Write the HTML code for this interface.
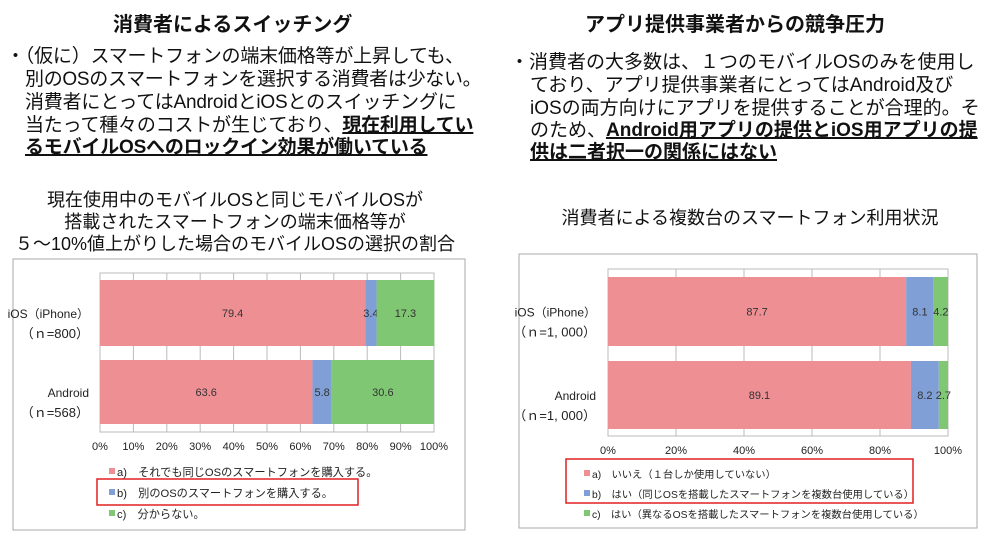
<!DOCTYPE html>
<html><head><meta charset="utf-8">
<style>
body{margin:0;width:1000px;height:536px;background:#fff;overflow:hidden;position:relative;font-family:"Liberation Sans","Noto Sans CJK JP",sans-serif;color:#111}
.t{position:absolute;white-space:nowrap}
.h{font-size:20px;font-weight:bold}
.b{font-size:19px;line-height:19px}
.u{font-weight:bold;text-decoration:underline;text-decoration-thickness:2px}
.ct{font-size:18px;text-align:center}
svg{position:absolute;left:0;top:0}
</style></head><body>
<div class="t h" style="left:113px;top:8px">消費者によるスイッチング</div>
<div class="t h" style="left:585px;top:8px">アプリ提供事業者からの競争圧力</div>
<div>
<div class="t b" style="left:6px;top:47px;letter-spacing:-0.2px">・（仮に）スマートフォンの端末価格等が上昇しても、</div>
<div class="t b" style="left:25px;top:70px;letter-spacing:-0.3px">別のOSのスマートフォンを選択する消費者は少ない。</div>
<div class="t b" style="left:25px;top:93px;letter-spacing:-0.2px">消費者にとってはAndroidとiOSとのスイッチングに</div>
<div class="t b" style="left:25px;top:116px;letter-spacing:-0.2px">当たって種々のコストが生じており、<span class="u">現在利用してい</span></div>
<div class="t b u" style="left:25px;top:138px;letter-spacing:-0.2px">るモバイルOSへのロックイン効果が働いている</div>
</div>
<div>
<div class="t b" style="left:510px;top:53px">・消費者の大多数は、１つのモバイルOSのみを使用し</div>
<div class="t b" style="left:530px;top:76px">ており、アプリ提供事業者にとってはAndroid及び</div>
<div class="t b" style="left:530px;top:99px">iOSの両方向けにアプリを提供することが合理的。そ</div>
<div class="t b" style="left:530px;top:121px">のため、<span class="u">Android用アプリの提供とiOS用アプリの提</span></div>
<div class="t b u" style="left:530px;top:143px">供は二者択一の関係にはない</div>
</div>
<div class="t ct" style="left:0;width:470px;top:189px;line-height:22px">現在使用中のモバイルOSと同じモバイルOSが<br>搭載されたスマートフォンの端末価格等が<br>５～10%値上がりした場合のモバイルOSの選択の割合</div>
<div class="t ct" style="left:515px;width:470px;top:204px">消費者による複数台のスマートフォン利用状況</div>
<svg id="s" width="1000" height="536"></svg>
<script>
const leftCats=["iOS（iPhone）","Android"];
const leftN=["（ｎ=800）","（ｎ=568）"];
const leftA=[79.4,63.6];
const leftB=[3.4,5.8];
const leftC=[17.3,30.6];
const leftTicks=[0,10,20,30,40,50,60,70,80,90,100];
const leftLegend=["a)　それでも同じOSのスマートフォンを購入する。","b)　別のOSのスマートフォンを購入する。","c)　分からない。"];
const rightCats=["iOS（iPhone）","Android"];
const rightN=["（ｎ=1, 000）","（ｎ=1, 000）"];
const rightA=[87.7,89.1];
const rightB=[8.1,8.2];
const rightC=[4.2,2.7];
const rightTicks=[0,20,40,60,80,100];
const rightLegend=["a)　いいえ（１台しか使用していない）","b)　はい（同じOSを搭載したスマートフォンを複数台使用している）","c)　はい（異なるOSを搭載したスマートフォンを複数台使用している）"];
const colors=["#ee8f94","#7f9fd6","#80c774"];
const S=document.getElementById('s');const NS="http://www.w3.org/2000/svg";
function mk(t,a,txt){const e=document.createElementNS(NS,t);for(const k in a)e.setAttribute(k,a[k]);if(txt!==undefined)e.textContent=txt;S.appendChild(e);return e;}
function chart(o){
 let r=mk('rect',{x:o.fx,y:o.fy,width:o.fw,height:o.fh,fill:'#fff',stroke:'#aaa','stroke-width':1});
 
 const X=v=>o.x0+(o.x1-o.x0)*v/100;
 mk('rect',{x:o.x0,y:o.gt,width:o.x1-o.x0,height:o.gb-o.gt,fill:'none',stroke:'#bbb'});
 o.ticks.forEach(t=>{let l=mk('line',{x1:X(t),x2:X(t),y1:o.gt,y2:o.gb,stroke:'#bbb'});
  
  let tx=mk('text',{x:X(t),y:o.gb+18,'font-size':11,'text-anchor':'middle',fill:'#222'},t+'%');
  });
 o.cats.forEach((c,i)=>{
  const y=o.by[i],h=o.bh[i];let acc=0;
  [o.A[i],o.B[i],o.C[i]].forEach((v,k)=>{
   let b=mk('rect',{x:X(acc),y:y,width:X(acc+v)-X(acc),height:h,fill:colors[k]});
   
   let lt=mk('text',{x:(X(acc)+X(acc+v))/2,y:y+h/2+4,'font-size':11,'text-anchor':'middle',fill:'#333'},v.toFixed(1));
   
   acc+=v;});
  let cl=mk('text',{x:o.lx,y:y+h/2+5,'font-size':12,'text-anchor':'end',fill:'#222'},c);
  
  let nl=mk('text',{x:o.lx,y:y+h/2+25,'font-size':13,'text-anchor':'end',fill:'#222'},o.n[i]);
  
 });
 o.legend.forEach((t,k)=>{
  let sq=mk('rect',{x:o.lgx,y:o.lgy[k]-8,width:6,height:6,fill:colors[k]});
  
  let lt=mk('text',{x:o.lgx+8,y:o.lgy[k],'font-size':o.lfs,fill:'#222'},t);
  });
 let hb=mk('rect',{x:o.hb[0],y:o.hb[1],width:o.hb[2],height:o.hb[3],fill:'none',stroke:'#e02020','stroke-width':1.5});
 
}
chart({p:'left',fx:13,fy:259,fw:452,fh:271,x0:100,x1:434,gt:273,gb:432,by:[280,360],bh:[66,64],lx:89,lfs:11.2,
 cats:leftCats,n:leftN,A:leftA,B:leftB,C:leftC,ticks:leftTicks,legend:leftLegend,lgx:109,lgy:[476,497,518],hb:[97,479,261,26]});
chart({p:'right',fx:519,fy:254,fw:458,fh:274,x0:608,x1:948,gt:269,gb:436,by:[277,361],bh:[69,68],lx:596,lfs:10.3,
 cats:rightCats,n:rightN,A:rightA,B:rightB,C:rightC,ticks:rightTicks,legend:rightLegend,lgx:584,lgy:[478,498,518],hb:[566,459,347,44]});
</script>
</body></html>
